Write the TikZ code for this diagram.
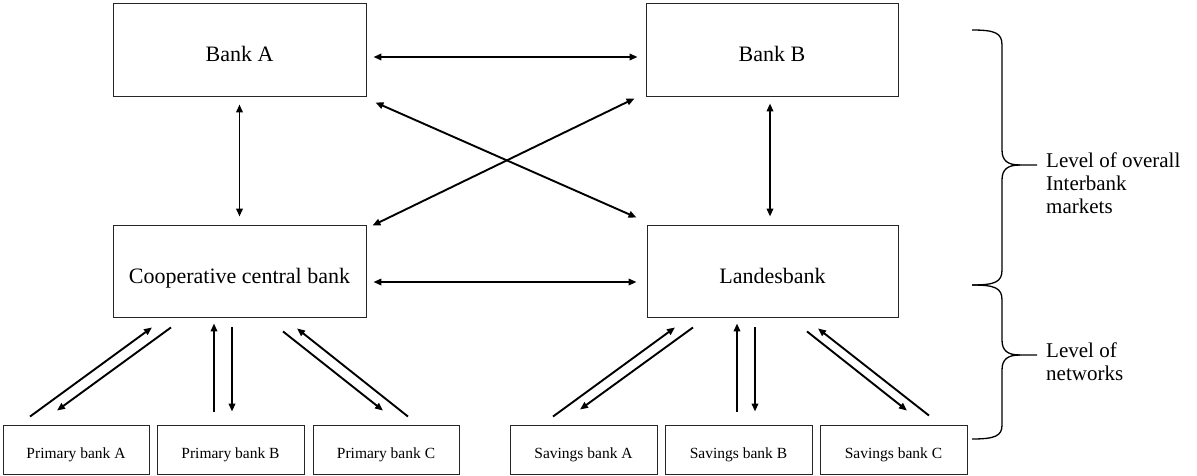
\documentclass[tikz,border=0pt]{standalone}
\usepackage{fontspec}
\setmainfont{Liberation Serif}
\usetikzlibrary{arrows.meta,calc}
\begin{document}
\begin{tikzpicture}[x=1pt,y=-1pt,
  bigbox/.style={draw=black!85,line width=0.9pt,minimum width=253pt,minimum height=93pt,inner sep=0pt,text height=25pt,text depth=0pt,font=\fontsize{22}{26}\selectfont},
  smallbox/.style={draw=black!85,line width=0.9pt,minimum width=146pt,minimum height=49pt,inner sep=0pt,text height=16pt,text depth=0pt,font=\fontsize{15.5}{18}\selectfont},
  tip/.tip={Triangle[length=8pt,width=6.5pt]},
  arr/.style={line width=1.9pt,-tip},
  darr/.style={line width=1.9pt,tip-tip},
  bracepath/.style={line width=1.3pt},
  lbl/.style={anchor=north west,align=left,inner sep=0pt,font=\fontsize{21}{23}\selectfont}]
\fill[white] (0,0) rectangle (1197,476);
\useasboundingbox (0,0) rectangle (1197,476);

% boxes
\node[bigbox] (bA) at (239.5,49.5) {Bank A};
\node[bigbox,minimum width=252pt] (bB) at (772,49.5) {Bank B};
\node[bigbox,minimum height=92pt] (coop) at (239.5,271) {Cooperative central bank};
\node[bigbox,minimum width=251pt,minimum height=92pt] (lb) at (772.5,271) {Landesbank};
\node[smallbox] (pA) at (76,450) {Primary bank A};
\node[smallbox,minimum width=147pt] (pB) at (230.5,450) {Primary bank B};
\node[smallbox] (pC) at (386,450) {Primary bank C};
\node[smallbox,minimum width=147pt] (sA) at (583.5,450) {Savings bank A};
\node[smallbox,minimum width=147pt] (sB) at (738.5,450) {Savings bank B};
\node[smallbox,minimum width=147pt] (sC) at (893.5,450) {Savings bank C};

% upper level arrows
\draw[darr] ($(bA.east)+(7,7.5)$) -- ($(bB.west)+(-8,7.5)$);
\draw[darr] ($(bA.south)+(0,8)$) -- ($(coop.north)+(0,-8)$);
\draw[darr] ($(bB.south)+(-2,7)$) -- ($(lb.north)+(-2.5,-8)$);
\draw[darr] ($(bA.south east)+(9,6)$) -- ($(lb.north west)+(-10,-7)$);
\draw[darr] ($(coop.north east)+(6,1)$) -- ($(bB.south west)+(-11,2)$);
\draw[darr] ($(coop.east)+(7,11)$) -- ($(lb.west)+(-10,11)$);

% cooperative network
\draw[arr] ($(pA.north)+(-46,-8.5)$) -- ($(coop.south)+(-87.5,10)$);
\draw[arr] ($(coop.south)+(-68.5,10)$) -- ($(pA.north)+(-19,-14.5)$);
\draw[arr] ($(pB.north)+(-16.5,-13.5)$) -- ($(coop.south)+(-25.5,6)$);
\draw[arr] ($(coop.south)+(-7.5,10)$) -- ($(pB.north)+(1.5,-13.5)$);
\draw[arr] ($(coop.south)+(43.5,14)$) -- ($(pC.north)+(-3,-14.5)$);
\draw[arr] ($(pC.north)+(22,-8.5)$) -- ($(coop.south)+(57.5,11)$);

% savings network
\draw[arr] ($(sA.north)+(-30.5,-8.5)$) -- ($(lb.south)+(-97.5,10)$);
\draw[arr] ($(lb.south)+(-79.5,10)$) -- ($(sA.north)+(-3.5,-15.5)$);
\draw[arr] ($(sB.north)+(-1.5,-13.5)$) -- ($(lb.south)+(-35.5,6)$);
\draw[arr] ($(lb.south)+(-17.5,10)$) -- ($(sB.north)+(16.5,-13.5)$);
\draw[arr] ($(lb.south)+(34.5,14)$) -- ($(sC.north)+(13.5,-14.5)$);
\draw[arr] ($(sC.north)+(35.5,-9.5)$) -- ($(lb.south)+(45.5,11)$);

% braces
\draw[bracepath] (972,30) .. controls (995,30) and (1002,33) .. (1002,45) -- (1002,150) .. controls (1002,161) and (1008,165) .. (1020,165) -- (1037,165);
\draw[bracepath] (1020,165) .. controls (1008,165) and (1002,169) .. (1002,180) -- (1002,270) .. controls (1002,282) and (995,285) .. (972,285);
\draw[bracepath] (972,285) .. controls (995,285) and (1002,288) .. (1002,300) -- (1002,340) .. controls (1002,351) and (1008,355) .. (1020,355) -- (1037,355);
\draw[bracepath] (1020,355) .. controls (1008,355) and (1002,359) .. (1002,370) -- (1002,425) .. controls (1002,436) and (995,439) .. (972,439);

% labels
\node[lbl] (t1) at (1046,153) {Level of overall\\Interbank\\markets};
\node[lbl] (t2) at (1046,343) {Level of\\networks};
\end{tikzpicture}
\end{document}
